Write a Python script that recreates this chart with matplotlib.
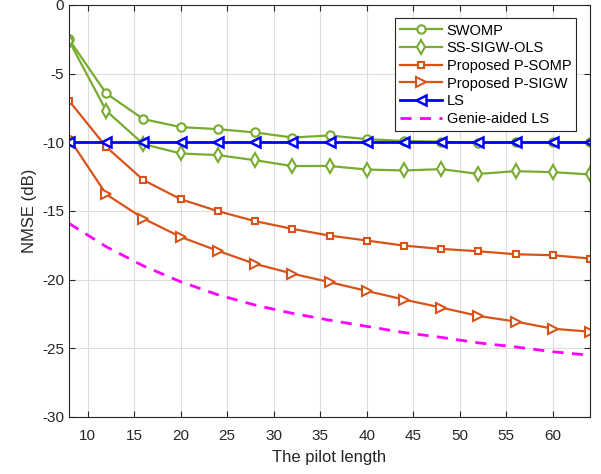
import matplotlib
matplotlib.use("Agg")
import matplotlib.pyplot as plt

plt.rcParams['font.family'] = ['Liberation Sans', 'DejaVu Sans']
plt.rcParams['axes.unicode_minus'] = False

pilot = [8, 12, 16, 20, 24, 28, 32, 36, 40, 44, 48, 52, 56, 60, 64]
swomp = [-2.5, -6.44, -8.31, -8.89, -9.04, -9.28, -9.65, -9.5, -9.77, -9.9, -9.95, -10.05, -10.0, -10.0, -10.0]
ss_sigw_ols = [-2.6, -7.7, -10.13, -10.81, -10.93, -11.3, -11.73, -11.72, -11.98, -12.05, -11.95, -12.3, -12.1, -12.17, -12.34]
p_somp = [-6.97, -10.33, -12.75, -14.14, -15.01, -15.74, -16.3, -16.79, -17.15, -17.52, -17.76, -17.93, -18.15, -18.22, -18.46]
p_sigw = [-9.7, -13.78, -15.55, -16.89, -17.9, -18.85, -19.56, -20.18, -20.82, -21.45, -22.03, -22.64, -23.05, -23.57, -23.79]
ls = [-10.0] * len(pilot)
genie_ls = [-15.9, -17.6, -19.0, -20.15, -21.1, -21.85, -22.45, -22.95, -23.4, -23.85, -24.2, -24.6, -24.9, -25.25, -25.5]

green = '#77AC30'
orange = '#D95319'

fig = plt.figure(figsize=(6.01, 4.74), dpi=100)
ax = fig.add_axes([69/601, 1 - 417/474, 521/601, 412/474])

lw = 1.6
ms = 6
ax.plot(pilot, swomp, color=green, lw=lw, marker='o', ms=ms, mfc='white', mew=1.5, label='SWOMP')
ax.plot(pilot, ss_sigw_ols, color=green, lw=lw, marker='d', ms=ms+1, mfc='white', mew=1.5, label='SS-SIGW-OLS')
ax.plot(pilot, p_somp, color=orange, lw=lw, marker='s', ms=ms-1, mfc='white', mew=1.5, label='Proposed P-SOMP')
ax.plot(pilot, p_sigw, color=orange, lw=lw, marker='>', ms=ms+1, mfc='white', mew=1.5, label='Proposed P-SIGW')
ax.plot(pilot, ls, color='blue', lw=lw+0.4, marker='<', ms=ms+1, mfc='white', mew=1.8, label='LS')
ax.plot(pilot, genie_ls, color='#FF00FF', lw=lw+0.4, ls=(0, (4, 3)), label='Genie-aided LS')

ax.set_xlim(8, 64)
ax.set_ylim(-30, 0)
ax.set_xticks(list(range(10, 65, 5)))
ax.set_yticks(list(range(-30, 1, 5)))
ax.grid(True, color='#DDDDDD', lw=0.8)
ax.set_axisbelow(True)
ax.tick_params(direction='in', top=True, right=True, labelsize=11, length=4, color='#262626', labelcolor='#262626')
ax.tick_params(axis='x', pad=9)
for s in ax.spines.values():
    s.set_color('#262626')
    s.set_linewidth(0.8)
ax.set_xlabel('The pilot length', fontsize=12, color='#262626', labelpad=5)
ax.set_ylabel('NMSE (dB)', fontsize=12, color='#262626')

leg = ax.legend(loc='upper right', fontsize=10.5, fancybox=False, edgecolor='#262626', framealpha=1,
                handlelength=2.9, borderpad=0.35, labelspacing=0.25, handletextpad=0.3,
                bbox_to_anchor=(0.988, 0.985))
leg.get_frame().set_linewidth(0.8)

fig.savefig('out.png', dpi=100)
